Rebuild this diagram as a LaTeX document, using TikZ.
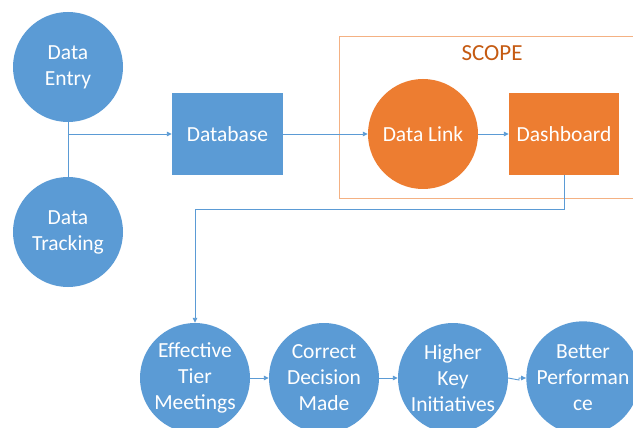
\documentclass[tikz,border=0pt]{standalone}
\usepackage{fontspec}
\setmainfont{Carlito}
\usetikzlibrary{arrows.meta,calc}
\definecolor{obl}{HTML}{5B9BD5}
\definecolor{oor}{HTML}{ED7D31}
\definecolor{scopeline}{HTML}{F4B183}
\definecolor{scopetxt}{HTML}{C55A11}
\tikzset{
  bcirc/.style={circle, fill=obl, minimum size=110pt, inner sep=0pt, align=center, text=white, font=\fontsize{21.5}{26}\selectfont},
  ocirc/.style={bcirc, fill=oor},
  bbox/.style={rectangle, fill=obl, minimum width=111pt, minimum height=82pt, inner sep=0pt, align=center, text=white, font=\fontsize{21.5}{26}\selectfont},
  obox/.style={bbox, fill=oor, minimum width=110pt},
  conn/.style={draw=obl, line width=0.9pt},
  arr/.style={conn, -{Triangle[length=5pt,width=4.5pt]}},
}
\begin{document}
\begin{tikzpicture}[x=1pt,y=-1pt]
\useasboundingbox (0,0) rectangle (633,428);
\clip (0,0) rectangle (633,428);
\fill[white] (0,0) rectangle (633,428);
% scope frame
\draw[scopeline, line width=0.8pt] (339,36) rectangle (650,198);
\node[text=scopetxt, font=\fontsize{23}{26}\selectfont] (scope) at (492,53) {SCOPE};
% nodes
\node[bcirc] (de) at (68,67) {Data\\Entry};
\node[bcirc] (dt) at (68,232) {Data\\Tracking};
\node[bbox] (db) at (227.5,134) {Database};
\node[ocirc] (dl) at (423,134) {Data Link};
\node[obox] (dash) at (564,134) {Dashboard};
\node[bcirc] (et) at (195,378) {Effective\\Tier\\Meetings};
\node[bcirc] (cd) at (324,378) {Correct\\Decision\\Made};
\node[bcirc] (hk) at (453,378) {Higher\\Key\\Initiatives};
\node[bcirc] (bp) at (583,378) {Better\\Performan\\ce};
% connectors
\coordinate (j) at (68,134);
\draw[conn] (de.south) -- (dt.north);
\draw[arr] (j) -- (db.west);
\draw[arr] (db.east) -- (dl.west);
\draw[arr] (dl.east) -- (dash.west);
\coordinate (t1) at (564,209);
\coordinate (t2) at (195,209);
\draw[arr] (dash.south) -- (t1) -- (t2) -- (et.north);
\draw[arr] (et.east) -- (cd.west);
\draw[arr] (cd.east) -- (hk.west);
\coordinate (k1) at (519,380);
\draw[arr] (hk.east) -- (k1) |- (bp.west);
\end{tikzpicture}
\end{document}
